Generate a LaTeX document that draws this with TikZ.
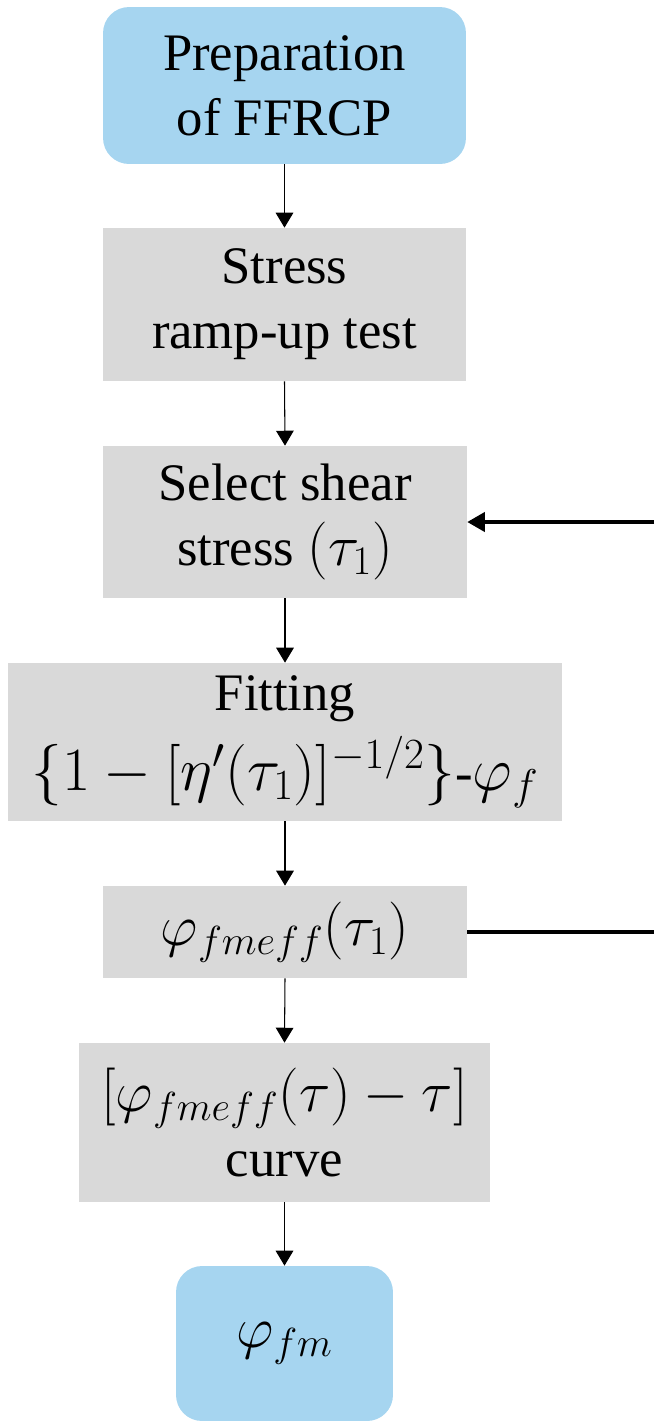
\RequirePackage{fix-cm}
\documentclass[tikz,border=0pt]{standalone}
\usepackage{fontspec}
\setmainfont{Liberation Serif}
\newfontfamily\boxfont{Liberation Serif}
\usetikzlibrary{arrows.meta}
\definecolor{termblue}{RGB}{166,213,240}
\definecolor{procgray}{RGB}{217,217,217}
\newcommand{\mx}[1]{{\fontsize{33}{37}\selectfont$#1$}}
\newcommand{\mxl}[1]{{\fontsize{35}{37}\selectfont$#1$}}

\begin{document}
\begin{tikzpicture}[x=0.02cm, y=-0.02cm,
    term/.style={fill=termblue, rounded corners=0.52cm, align=center,
                 font=\boxfont\fontsize{30}{37}\selectfont},
    proc/.style={fill=procgray, align=center,
                 font=\boxfont\fontsize{30}{37}\selectfont},
    flow/.style={-{Triangle[width=10pt, length=8.5pt]}, line width=0.6pt},
    fbline/.style={line width=1.8pt}]
  \useasboundingbox (0,0) rectangle (654,1421);

  % start
  \node[term, minimum width=7.26cm, minimum height=3.14cm]
        (prep) at (284.5, 85.5) {Preparation\\of FFRCP};

  % test steps
  \node[proc, minimum width=7.26cm, minimum height=3.06cm]
        (ramp) at (284.5, 304.5) {Stress\\ramp-up test};
  \node[proc, minimum width=7.28cm, minimum height=3.04cm]
        (select) at (285, 522) {Select shear\\stress \mx{(\tau_1)}};
  \node[proc, minimum width=11.08cm, minimum height=3.16cm]
        (fit) at (285, 742)
        {Fitting\\[7pt]\mxl{\{1-[\eta'(\tau_1)]^{-1/2}\}}-\mxl{\varphi_f}};
  \node[proc, minimum width=7.28cm, minimum height=1.84cm]
        (fmeff) at (285, 932) {\mx{\varphi_{fmeff}(\tau_1)}};
  \node[proc, minimum width=8.22cm, minimum height=3.18cm]
        (curve) at (284.5, 1122.5) {\mx{[\varphi_{fmeff}(\tau)-\tau]}\\curve};

  % end
  \node[term, minimum width=4.34cm, minimum height=3.1cm]
        (fm) at (284.5, 1343.5) {\mx{\varphi_{fm}}};

  % main flow
  \draw[flow] (prep.south) -- (ramp.north);
  \draw[flow] (ramp.south) -- (select.north);
  \draw[flow] (select.south) -- (fit.north);
  \draw[flow] (fit.south) -- (fmeff.north);
  \draw[flow] (fmeff.south) -- (curve.north);
  \draw[flow] (curve.south) -- (fm.north);

  % loop back (leaves the frame)
  \coordinate (fbtop) at (654, 522);
  \coordinate (fbbot) at (654, 932);
  \draw[fbline] (fmeff.east) -- (fbbot);
  \draw[fbline, -{Triangle[width=11pt, length=10pt]}] (fbtop) -- (select.east);
\end{tikzpicture}
\end{document}
